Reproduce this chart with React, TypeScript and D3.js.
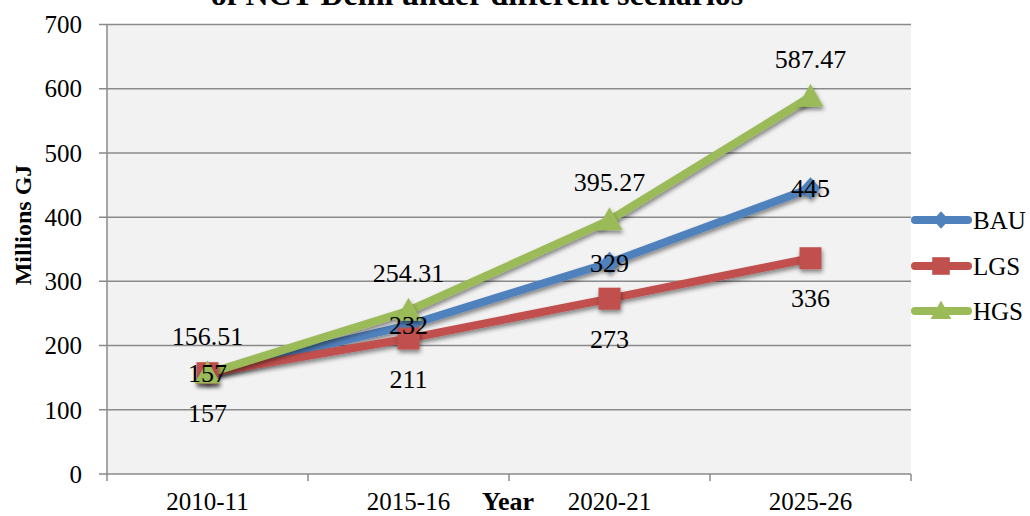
import React, { useEffect, useRef } from "react";
import * as d3 from "d3";

const categories = ["2010-11", "2015-16", "2020-21", "2025-26"];
const bauValues = [157, 232, 329, 445];
const lgsValues = [157, 211, 273, 336];
const hgsValues = [156.51, 254.31, 395.27, 587.47];
const bauLabels = ["157", "232", "329", "445"];
const lgsLabels = ["157", "211", "273", "336"];
const hgsLabels = ["156.51", "254.31", "395.27", "587.47"];
const yTicks = [0, 100, 200, 300, 400, 500, 600, 700];
const titleText = "of NCT Delhi under different scenarios";
const yTitle = "Millions GJ";
const xTitle = "Year";

const FONT = "'Liberation Serif', 'Times New Roman', serif";

export default function App() {
  const ref = useRef<SVGSVGElement | null>(null);

  useEffect(() => {
    const svg = d3.select(ref.current);
    svg.selectAll("*").remove();
    const W = 1030, H = 516;
    const left = 107, right = 911, top = 24.5, bottom = 474;

    const defs = svg.append("defs");
    const f = defs.append("filter").attr("id", "shadow").attr("x", "-50%").attr("y", "-50%").attr("width", "200%").attr("height", "200%");
    f.append("feDropShadow").attr("dx", 1).attr("dy", 3).attr("stdDeviation", 2).attr("flood-color", "#000").attr("flood-opacity", 0.45);

    const x = d3.scaleBand<string>().domain(categories).range([left, right]).padding(0);
    const y = d3.scaleLinear().domain([0, 700]).range([bottom, top]);
    const cx = (c: string) => (x(c) as number) + x.bandwidth() / 2;

    svg.append("rect").attr("x", 0).attr("y", 0).attr("width", W).attr("height", H).attr("fill", "#fff");
    svg.append("rect").attr("x", left).attr("y", top).attr("width", right - left).attr("height", bottom - top).attr("fill", "#F2F2F2");

    // gridlines
    svg.append("g").selectAll("line").data(yTicks.filter(t => t > 0)).join("line")
      .attr("x1", left - 8).attr("x2", right).attr("y1", d => y(d)).attr("y2", d => y(d))
      .attr("stroke", "#8a8a8a").attr("stroke-width", 1.5);

    // axes
    svg.append("line").attr("x1", left).attr("x2", left).attr("y1", top).attr("y2", bottom).attr("stroke", "#8a8a8a").attr("stroke-width", 1.5);
    svg.append("line").attr("x1", left - 8).attr("x2", right).attr("y1", bottom).attr("y2", bottom).attr("stroke", "#8a8a8a").attr("stroke-width", 1.5);
    const xTickPos = categories.map(c => x(c) as number).concat([right]);
    svg.append("g").selectAll("line").data(xTickPos).join("line")
      .attr("x1", d => d).attr("x2", d => d).attr("y1", bottom).attr("y2", bottom + 7)
      .attr("stroke", "#8a8a8a").attr("stroke-width", 1.5);

    // y tick labels
    svg.append("g").selectAll("text").data(yTicks).join("text")
      .attr("x", 82).attr("y", d => y(d)).attr("dy", "0.35em").attr("text-anchor", "end")
      .attr("font-family", FONT).attr("font-size", 25).attr("fill", "#000").text(d => String(d));

    // x tick labels
    svg.append("g").selectAll("text").data(categories).join("text")
      .attr("x", d => cx(d)).attr("y", 510).attr("text-anchor", "middle")
      .attr("font-family", FONT).attr("font-size", 25).attr("fill", "#000").text(d => d);

    // title (clipped at top, as in the reference)
    svg.append("text").attr("x", 477).attr("y", 5).attr("text-anchor", "middle")
      .attr("font-family", FONT).attr("font-size", 32).attr("font-weight", "bold").text(titleText);

    // axis titles
    svg.append("text").attr("transform", "translate(31,225) rotate(-90)").attr("text-anchor", "middle")
      .attr("font-family", FONT).attr("font-size", 24).attr("font-weight", "bold").text(yTitle);
    svg.append("text").attr("x", 508).attr("y", 510).attr("text-anchor", "middle")
      .attr("font-family", FONT).attr("font-size", 26).attr("font-weight", "bold").text(xTitle);

    const series = [
      { name: "BAU", values: bauValues, labels: bauLabels, color: "#4F81BD", marker: "diamond", off: 0 },
      { name: "LGS", values: lgsValues, labels: lgsLabels, color: "#C0504D", marker: "square", off: 40 },
      { name: "HGS", values: hgsValues, labels: hgsLabels, color: "#9BBB59", marker: "triangle", off: -38 },
    ];

    const symbolPath = (m: string) => {
      if (m === "diamond") return "M0,-11L10,0L0,11L-10,0Z";
      if (m === "square") return "M-11,-11H11V11H-11Z";
      return "M0,-13L13,10H-13Z";
    };

    const line = d3.line<number>().x((_, i) => cx(categories[i])).y(d => y(d));

    const lineG = svg.append("g");
    const markG = svg.append("g");
    series.forEach(s => {
      lineG.append("path").attr("d", line(s.values) as string).attr("fill", "none")
        .attr("stroke", s.color).attr("stroke-width", 8).attr("stroke-linejoin", "round").attr("stroke-linecap", "round")
        .attr("filter", "url(#shadow)");
    });
    series.forEach(s => {
      markG.selectAll(null).data(s.values).join("path")
        .attr("transform", (d, i) => `translate(${cx(categories[i])},${y(d)})`)
        .attr("d", symbolPath(s.marker)).attr("fill", s.color).attr("filter", "url(#shadow)");
    });
    const labelG = svg.append("g");
    series.forEach(s => {
      labelG.selectAll(null).data(s.values).join("text")
        .attr("x", (_, i) => cx(categories[i])).attr("y", d => y(d) + s.off).attr("dy", "0.35em")
        .attr("text-anchor", "middle").attr("font-family", FONT).attr("font-size", 26).attr("fill", "#000")
        .text((_, i) => s.labels[i]);
    });

    // legend
    const legY = [220, 266, 311];
    series.forEach((s, i) => {
      const g = svg.append("g").attr("transform", `translate(0,${legY[i]})`);
      g.append("line").attr("x1", 915).attr("x2", 968).attr("y1", 0).attr("y2", 0)
        .attr("stroke", s.color).attr("stroke-width", 8).attr("stroke-linecap", "round");
      g.append("path").attr("transform", "translate(941,0) scale(0.8)").attr("d", symbolPath(s.marker)).attr("fill", s.color);
      g.append("text").attr("x", 973).attr("y", 0).attr("dy", "0.35em").attr("font-family", FONT)
        .attr("font-size", 25).attr("fill", "#000").text(s.name);
    });
  }, []);

  return <svg ref={ref} width={1030} height={516} style={{ display: "block", position: "absolute", left: 0, top: 0 }} />;
}
